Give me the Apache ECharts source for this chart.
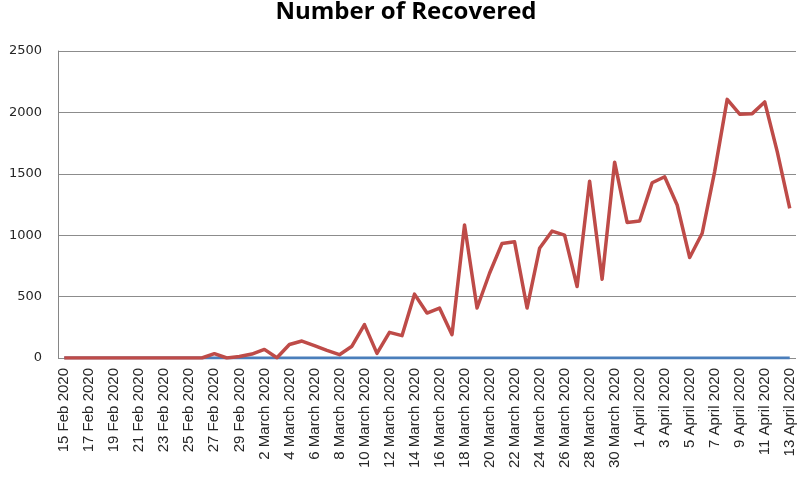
<!DOCTYPE html>
<html>
<head>
<meta charset="utf-8">
<script src="https://cdn.jsdelivr.net/npm/echarts@6/dist/echarts.min.js"></script>
<style>
html,body{margin:0;padding:0;background:#fff;}
#chart{width:800px;height:482px;}
</style>
</head>
<body>
<div id="chart"></div>
<script>
const titleText = "Number of Recovered";
const dates = [
  "15 Feb 2020","16 Feb 2020","17 Feb 2020","18 Feb 2020","19 Feb 2020","20 Feb 2020","21 Feb 2020","22 Feb 2020",
  "23 Feb 2020","24 Feb 2020","25 Feb 2020","26 Feb 2020","27 Feb 2020","28 Feb 2020","29 Feb 2020",
  "1 March 2020","2 March 2020","3 March 2020","4 March 2020","5 March 2020","6 March 2020","7 March 2020",
  "8 March 2020","9 March 2020","10 March 2020","11 March 2020","12 March 2020","13 March 2020","14 March 2020",
  "15 March 2020","16 March 2020","17 March 2020","18 March 2020","19 March 2020","20 March 2020","21 March 2020",
  "22 March 2020","23 March 2020","24 March 2020","25 March 2020","26 March 2020","27 March 2020","28 March 2020",
  "29 March 2020","30 March 2020","31 March 2020",
  "1 April 2020","2 April 2020","3 April 2020","4 April 2020","5 April 2020","6 April 2020","7 April 2020",
  "8 April 2020","9 April 2020","10 April 2020","11 April 2020","12 April 2020","13 April 2020"
];
const recovered = [
  0,0,0,0,0,0,0,0,0,0,0,0,35,0,12,
  32,70,2,110,138,100,62,27,96,272,38,209,182,520,366,407,190,1083,407,690,933,946,407,893,1033,1000,582,1440,642,1595,1104,
  1115,1427,1476,1246,818,1016,1520,2106,1985,1990,2085,1680,1219
];
const baseline = [
  0,0,0,0,0,0,0,0,0,0,0,0,0,0,0,
  0,0,0,0,0,0,0,0,0,0,0,0,0,0,0,0,0,0,0,0,0,0,0,0,0,0,0,0,0,0,0,
  0,0,0,0,0,0,0,0,0,0,0,0,0
];
const yTicks = [0, 500, 1000, 1500, 2000, 2500];

const chart = echarts.init(document.getElementById('chart'), null, {renderer: 'canvas'});
chart.setOption({
  animation: false,
  backgroundColor: '#ffffff',
  title: {
    text: titleText,
    left: 406,
    top: 0,
    padding: 0,
    textAlign: 'center',
    textStyle: {fontFamily: 'Open Sans', fontWeight: 'bold', fontSize: 24, color: '#000'}
  },
  grid: {left: 58, right: 4, top: 51, bottom: 124, containLabel: false},
  xAxis: {
    type: 'category',
    data: dates,
    boundaryGap: true,
    axisLine: {show: false},
    axisTick: {show: false},
    axisLabel: {
      interval: 1, rotate: 90, margin: 10,
      fontFamily: 'Liberation Sans', fontSize: 15, color: '#262626'
    },
    splitLine: {show: false}
  },
  yAxis: {
    type: 'value',
    min: yTicks[0], max: yTicks[yTicks.length-1], interval: 500,
    axisLine: {show: true, lineStyle: {color: '#868686', width: 1}},
    axisTick: {show: false},
    axisLabel: {margin: 16, fontFamily: 'DejaVu Sans', fontSize: 13, color: '#262626',
      formatter: function (v) { return String(v); }},
    splitLine: {show: true, lineStyle: {color: '#8c8c8c', width: 1}}
  },
  series: [
    {
      name: 'Baseline', type: 'line', data: baseline, showSymbol: false, symbol: 'none',
      lineStyle: {color: '#4A7EBB', width: 3}, itemStyle: {color: '#4A7EBB'}, z: 2
    },
    {
      name: 'Recovered', type: 'line', data: recovered, showSymbol: false, symbol: 'none',
      lineStyle: {color: '#BE4B48', width: 3.5, join: 'round'}, itemStyle: {color: '#BE4B48'}, z: 3
    }
  ]
});
</script>
</body>
</html>
